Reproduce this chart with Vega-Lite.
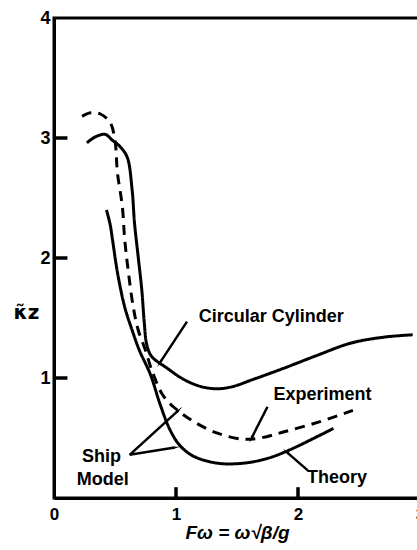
{
  "$schema": "https://vega.github.io/schema/vega-lite/v6.json",
  "width": 366,
  "height": 480,
  "autosize": "none",
  "padding": {"left": 54, "top": 18, "right": 0, "bottom": 52},
  "background": "white",
  "config": {
    "view": {"stroke": "black", "strokeWidth": 3},
    "font": "Liberation Sans"
  },
  "datasets": {
    "curves": [
      {"series": "Circular Cylinder", "x": 0.27, "y": 2.96},
      {"series": "Circular Cylinder", "x": 0.34, "y": 3.01},
      {"series": "Circular Cylinder", "x": 0.42, "y": 3.03},
      {"series": "Circular Cylinder", "x": 0.48, "y": 2.98},
      {"series": "Circular Cylinder", "x": 0.54, "y": 2.93},
      {"series": "Circular Cylinder", "x": 0.60, "y": 2.84},
      {"series": "Circular Cylinder", "x": 0.64, "y": 2.57},
      {"series": "Circular Cylinder", "x": 0.66, "y": 2.29},
      {"series": "Circular Cylinder", "x": 0.69, "y": 2.01},
      {"series": "Circular Cylinder", "x": 0.72, "y": 1.73},
      {"series": "Circular Cylinder", "x": 0.74, "y": 1.46},
      {"series": "Circular Cylinder", "x": 0.76, "y": 1.28},
      {"series": "Circular Cylinder", "x": 0.80, "y": 1.18},
      {"series": "Circular Cylinder", "x": 0.93, "y": 1.08},
      {"series": "Circular Cylinder", "x": 1.06, "y": 0.99},
      {"series": "Circular Cylinder", "x": 1.20, "y": 0.93},
      {"series": "Circular Cylinder", "x": 1.34, "y": 0.91},
      {"series": "Circular Cylinder", "x": 1.47, "y": 0.93},
      {"series": "Circular Cylinder", "x": 1.61, "y": 0.98},
      {"series": "Circular Cylinder", "x": 1.88, "y": 1.08},
      {"series": "Circular Cylinder", "x": 2.16, "y": 1.19},
      {"series": "Circular Cylinder", "x": 2.43, "y": 1.29},
      {"series": "Circular Cylinder", "x": 2.70, "y": 1.34},
      {"series": "Circular Cylinder", "x": 2.94, "y": 1.36},
      {"series": "Experiment", "x": 0.23, "y": 3.18},
      {"series": "Experiment", "x": 0.30, "y": 3.21},
      {"series": "Experiment", "x": 0.38, "y": 3.20},
      {"series": "Experiment", "x": 0.46, "y": 3.13},
      {"series": "Experiment", "x": 0.50, "y": 2.98},
      {"series": "Experiment", "x": 0.52, "y": 2.71},
      {"series": "Experiment", "x": 0.56, "y": 2.43},
      {"series": "Experiment", "x": 0.58, "y": 2.15},
      {"series": "Experiment", "x": 0.61, "y": 1.88},
      {"series": "Experiment", "x": 0.65, "y": 1.59},
      {"series": "Experiment", "x": 0.69, "y": 1.40},
      {"series": "Experiment", "x": 0.75, "y": 1.23},
      {"series": "Experiment", "x": 0.80, "y": 1.07},
      {"series": "Experiment", "x": 0.89, "y": 0.86},
      {"series": "Experiment", "x": 0.99, "y": 0.75},
      {"series": "Experiment", "x": 1.14, "y": 0.64},
      {"series": "Experiment", "x": 1.34, "y": 0.54},
      {"series": "Experiment", "x": 1.55, "y": 0.49},
      {"series": "Experiment", "x": 1.69, "y": 0.50},
      {"series": "Experiment", "x": 1.88, "y": 0.55},
      {"series": "Experiment", "x": 2.16, "y": 0.63},
      {"series": "Experiment", "x": 2.45, "y": 0.73},
      {"series": "Theory", "x": 0.43, "y": 2.40},
      {"series": "Theory", "x": 0.46, "y": 2.28},
      {"series": "Theory", "x": 0.48, "y": 2.15},
      {"series": "Theory", "x": 0.52, "y": 1.88},
      {"series": "Theory", "x": 0.58, "y": 1.59},
      {"series": "Theory", "x": 0.64, "y": 1.40},
      {"series": "Theory", "x": 0.70, "y": 1.23},
      {"series": "Theory", "x": 0.79, "y": 1.03},
      {"series": "Theory", "x": 0.87, "y": 0.78},
      {"series": "Theory", "x": 0.95, "y": 0.57},
      {"series": "Theory", "x": 1.03, "y": 0.44},
      {"series": "Theory", "x": 1.14, "y": 0.35},
      {"series": "Theory", "x": 1.34, "y": 0.29},
      {"series": "Theory", "x": 1.55, "y": 0.29},
      {"series": "Theory", "x": 1.75, "y": 0.33},
      {"series": "Theory", "x": 1.93, "y": 0.40},
      {"series": "Theory", "x": 2.29, "y": 0.58}
    ],
    "arrows": [
      {"name": "Circular Cylinder", "x": 1.09, "y": 1.47, "x2": 0.87, "y2": 1.13, "angle": 213},
      {"name": "Experiment", "x": 1.75, "y": 0.76, "x2": 1.62, "y2": 0.50, "angle": 206},
      {"name": "Ship Model (Experiment)", "x": 0.62, "y": 0.36, "x2": 1.02, "y2": 0.73, "angle": 47},
      {"name": "Ship Model (Theory)", "x": 0.62, "y": 0.36, "x2": 0.99, "y2": 0.42, "angle": 81},
      {"name": "Theory", "x": 2.08, "y": 0.23, "x2": 1.91, "y2": 0.38, "angle": 311}
    ],
    "labels": [
      {"label": "Circular Cylinder", "x": 1.78, "y": 1.51},
      {"label": "Experiment", "x": 2.20, "y": 0.86},
      {"label": "Ship", "x": 0.39, "y": 0.34},
      {"label": "Model", "x": 0.40, "y": 0.15},
      {"label": "Theory", "x": 2.32, "y": 0.17}
    ],
    "xticks": [{"value": 1}, {"value": 2}, {"value": 3}],
    "yticks": [{"value": 1}, {"value": 2}, {"value": 3}]
  },
  "layer": [
    {
      "data": {"name": "curves"},
      "mark": {"type": "line", "interpolate": "catmull-rom", "strokeWidth": 3, "color": "black", "clip": true},
      "encoding": {
        "x": {
          "field": "x", "type": "quantitative",
          "scale": {"domain": [0, 3], "nice": false, "zero": false},
          "axis": {
            "values": [0, 1, 2, 3],
            "format": "d",
            "title": "Fω = ω√β/g",
            "grid": false,
            "ticks": false,
            "domainColor": "black", "domainWidth": 3,
            "labelFont": "Liberation Sans", "labelFontWeight": "bold", "labelFontSize": 17,
            "labelColor": "black", "labelPadding": 8, "labelFlush": false, "labelOverlap": false,
            "titleFont": "Liberation Sans", "titleFontSize": 19, "titleFontWeight": "bold",
            "titleFontStyle": "italic", "titleColor": "black", "titlePadding": 1
          }
        },
        "y": {
          "field": "y", "type": "quantitative",
          "scale": {"domain": [0, 4], "nice": false, "zero": false},
          "axis": {
            "values": [1, 2, 3, 4],
            "format": "d",
            "title": "κ̃z",
            "grid": false,
            "ticks": false,
            "domainColor": "black", "domainWidth": 3,
            "labelFont": "Liberation Sans", "labelFontWeight": "bold", "labelFontSize": 18,
            "labelColor": "black", "labelPadding": 4, "labelFlush": false, "labelOverlap": false,
            "titleFont": "DejaVu Sans", "titleFontSize": 20, "titleFontWeight": "bold",
            "titleColor": "black", "titleAngle": 0, "titleAlign": "center", "titleBaseline": "middle",
            "titleX": -28, "titleY": 294
          }
        },
        "detail": {"field": "series"},
        "strokeDash": {
          "field": "series", "type": "nominal",
          "scale": {"domain": ["Circular Cylinder", "Experiment", "Theory"], "range": [[1, 0], [10, 7], [1, 0]]},
          "legend": null
        }
      }
    },
    {
      "data": {"name": "xticks"},
      "mark": {"type": "rule", "color": "black", "strokeWidth": 3.5},
      "encoding": {
        "x": {"field": "value", "type": "quantitative"},
        "y": {"datum": 0, "type": "quantitative"},
        "y2": {"datum": 0.09}
      }
    },
    {
      "data": {"name": "yticks"},
      "mark": {"type": "rule", "color": "black", "strokeWidth": 3.5},
      "encoding": {
        "y": {"field": "value", "type": "quantitative"},
        "x": {"datum": 0, "type": "quantitative"},
        "x2": {"datum": 0.11}
      }
    },
    {
      "data": {"name": "arrows"},
      "mark": {"type": "rule", "strokeWidth": 2.5, "color": "black"},
      "encoding": {
        "x": {"field": "x", "type": "quantitative"},
        "y": {"field": "y", "type": "quantitative"},
        "x2": {"field": "x2"},
        "y2": {"field": "y2"}
      }
    },
    {
      "data": {"name": "arrows"},
      "mark": {"type": "point", "shape": "wedge", "filled": true, "color": "black", "size": 90, "opacity": 1},
      "encoding": {
        "x": {"field": "x2", "type": "quantitative"},
        "y": {"field": "y2", "type": "quantitative"},
        "angle": {"field": "angle", "type": "quantitative", "scale": null}
      }
    },
    {
      "data": {"name": "labels"},
      "mark": {"type": "text", "font": "Liberation Sans", "fontWeight": "bold", "fontSize": 18, "color": "black", "align": "center", "baseline": "middle"},
      "encoding": {
        "x": {"field": "x", "type": "quantitative"},
        "y": {"field": "y", "type": "quantitative"},
        "text": {"field": "label"}
      }
    }
  ]
}
